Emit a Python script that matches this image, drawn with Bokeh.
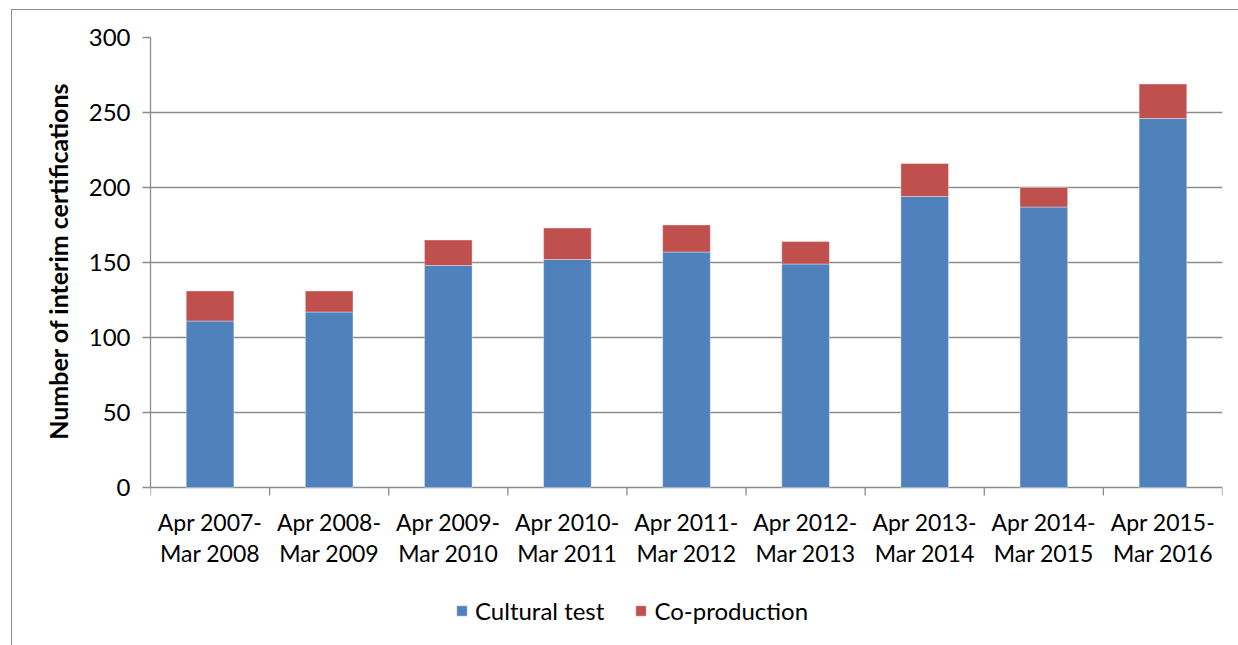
import math
from bokeh.plotting import figure
from bokeh.models import (Range1d, FixedTicker, Legend, LegendItem, InlineStyleSheet,
                          ColumnDataSource, Title)
from bokeh.core.properties import value
from bokeh.embed import file_html
from bokeh.resources import INLINE

# Interim certifications per financial year
periods = ["Apr 2007-\nMar 2008", "Apr 2008-\nMar 2009", "Apr 2009-\nMar 2010",
           "Apr 2010-\nMar 2011", "Apr 2011-\nMar 2012", "Apr 2012-\nMar 2013",
           "Apr 2013-\nMar 2014", "Apr 2014-\nMar 2015", "Apr 2015-\nMar 2016"]
cultural_test = [111, 117, 148, 152, 157, 149, 194, 187, 246]
co_production = [20, 14, 17, 21, 18, 15, 22, 13, 23]
y_ticks = [0, 50, 100, 150, 200, 250, 300]

BLUE = "#4F81BD"
RED = "#C0504D"
GRID = "#8c8c8c"
FONT = "Lato"

n = len(periods)
centers = [i + 0.5 for i in range(n)]
bounds = list(range(n + 1))

# The frame runs to the bottom of the page so the category labels and the
# legend can live under the value axis; 450 px cover the 0-300 value span.
Y_MAX = 300
VALUE_PX = 450
FRAME_PX = 608
y_start = -Y_MAX * (FRAME_PX - VALUE_PX) / VALUE_PX

src = ColumnDataSource(dict(x=centers, cultural=cultural_test, coprod=co_production,
                            label=periods, base=[0] * n))
tick_src = ColumnDataSource(dict(x=bounds, y=[0] * (n + 1)))

p = figure(frame_width=1072, frame_height=FRAME_PX, output_backend="svg",
           toolbar_location=None, x_axis_location=None,
           x_range=Range1d(0, n), y_range=Range1d(y_start, Y_MAX),
           min_border_left=150, min_border_right=16, min_border_top=37,
           min_border_bottom=0)
p.outline_line_color = None
p.background_fill_color = "white"
p.border_fill_color = "white"

rs = p.vbar_stack(["cultural", "coprod"], x="x", width=0.4, color=[BLUE, RED],
                  line_color="white", line_width=0.6, line_alpha=0.6, source=src)

# y axis
yax = p.yaxis[0]
yax.ticker = FixedTicker(ticks=y_ticks)
yax.bounds = (0, Y_MAX)
yax.axis_line_color = GRID
yax.axis_line_width = 1.3
yax.major_tick_line_color = GRID
yax.major_tick_line_width = 1.3
yax.major_tick_out = 8
yax.major_tick_in = 0
yax.minor_tick_line_color = None
yax.major_label_text_font = FONT
yax.major_label_text_font_size = "24px"
yax.major_label_text_color = "black"
yax.major_label_standoff = 12

# axis title, centred on the 0-300 value span rather than the whole frame
p.add_layout(Title(text="Number of interim certifications", align="right", offset=45,
                   standoff=26, text_font=FONT, text_font_style="bold",
                   text_font_size="25px", text_color="black"), "left")

p.xgrid.grid_line_color = None
p.ygrid.ticker = FixedTicker(ticks=y_ticks)
p.ygrid.grid_line_color = GRID
p.ygrid.grid_line_width = 1.3

# category axis: boundary ticks hanging below zero, two-line period labels
p.ray(x="x", y="y", length=8, length_units="screen", angle=-math.pi / 2,
      line_color=GRID, line_width=1.3, source=tick_src)
p.text(x="x", y="base", text="label", source=src, text_align="center",
       text_baseline="top", y_offset=20, text_font=value(FONT),
       text_font_size="23px", text_color="black", text_line_height=1.12)

legend = Legend(items=[LegendItem(label="Cultural test", renderers=[rs[0]]),
                       LegendItem(label="Co-production", renderers=[rs[1]])],
                orientation="horizontal", location=(305, 20),
                glyph_width=13, glyph_height=13, label_standoff=7, spacing=30,
                label_text_font=FONT, label_text_font_size="24px",
                label_text_color="black", padding=0, margin=0,
                border_line_alpha=0, background_fill_alpha=0)
p.add_layout(legend)

# thin frame line along the top and left of the chart area
p.stylesheets = [InlineStyleSheet(css="""
:host::after {
  content: "";
  position: absolute;
  left: 11px; top: 9px; right: 0; bottom: 0;
  border-left: 1px solid #8c8c8c;
  border-top: 1px solid #8c8c8c;
  pointer-events: none;
}
""")]

open("out.html", "w").write(file_html(p, INLINE))
